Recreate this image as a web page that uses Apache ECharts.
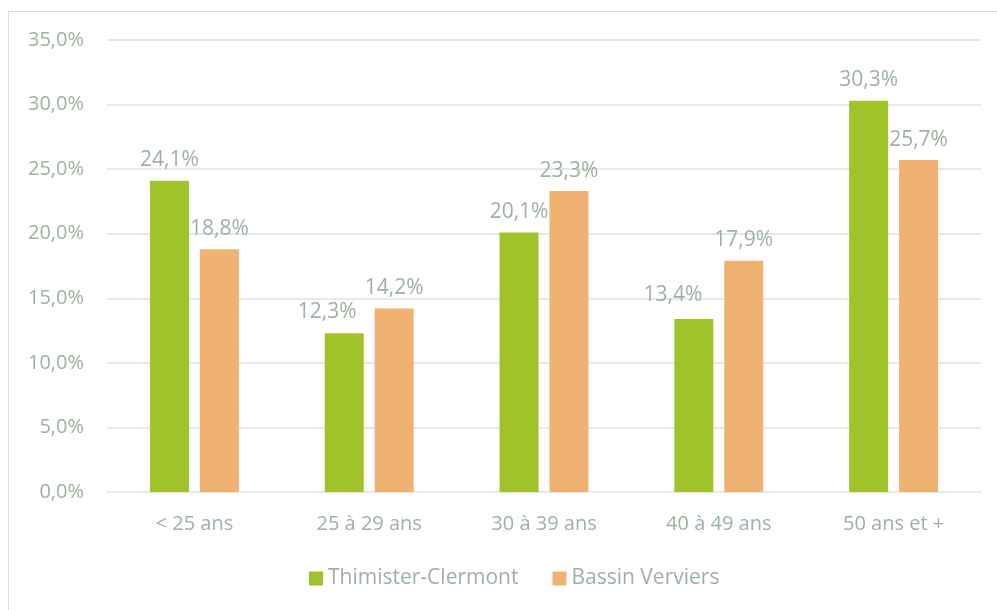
<!DOCTYPE html>
<html>
<head>
<meta charset="utf-8">
<script src="https://cdn.jsdelivr.net/npm/echarts@6/dist/echarts.min.js"></script>
<style>
    html, body { margin: 0; padding: 0; background: #fff; }
    #frame { position: absolute; left: 8px; top: 11px; width: 1000px; height: 620px; border: 1px solid #dcdcdc; box-sizing: border-box; }
    #chart1 { position: absolute; left: 0; top: 0; width: 997px; height: 610px; }
</style>
</head>
<body>
<div id="frame"></div>
<div id="chart1"></div>
<script>
var categories = ['< 25 ans', '25 à 29 ans', '30 à 39 ans', '40 à 49 ans', '50 ans et +'];
var thimister = [24.1, 12.3, 20.1, 13.4, 30.3];
var bassin = [18.8, 14.2, 23.3, 17.9, 25.7];
var seriesNames = ['Thimister-Clermont', 'Bassin Verviers'];
var colorList = ['#a0c32b', '#f0b272'];
var textColor = '#9eb2a1';
var font = '"Open Sans", "Noto Sans", sans-serif';
// labels nudged left so they don't collide with the neighbour bar's label
var labelShift = { 1: [-17, -1], 3: [-21, -3] };

function fmt(v) {
    return v.toFixed(1).replace('.', ',') + '%';
}

var chart1 = echarts.init(document.getElementById('chart1'));
var labelCfg = {
    show: true,
    position: 'top',
    distance: 10,
    color: textColor,
    fontSize: 21,
    fontFamily: font,
    formatter: function(p) { return fmt(p.value); }
};
var greenData = thimister.map(function(v, i) {
    if (labelShift[i]) {
        return { value: v, label: { offset: labelShift[i] } };
    }
    return v;
});
var option = {
    animation: false,
    grid: { left: 107, right: 16, top: 40, bottom: 118 },
    legend: {
        left: 304,
        top: 563,
        itemWidth: 14,
        itemHeight: 14,
        itemGap: 34,
        icon: 'rect',
        textStyle: { color: textColor, fontSize: 21, fontFamily: font },
        data: seriesNames
    },
    xAxis: {
        type: 'category',
        data: categories,
        axisLine: { show: true, lineStyle: { color: '#e6e9e7', width: 2 } },
        axisTick: { show: false },
        axisLabel: { color: textColor, fontSize: 20, fontFamily: font, margin: 22 }
    },
    yAxis: {
        type: 'value',
        min: 0,
        max: 35,
        interval: 5,
        axisLine: { show: false },
        axisTick: { show: false },
        splitLine: { lineStyle: { color: '#e6e9e7', width: 2 } },
        axisLabel: { color: textColor, fontSize: 20, fontFamily: font, margin: 23, formatter: function(v) { return fmt(v); } }
    },
    series: [{
        name: seriesNames[0],
        type: 'bar',
        data: greenData,
        barWidth: 39,
        barGap: '28%',
        itemStyle: { color: colorList[0] },
        label: labelCfg
    }, {
        name: seriesNames[1],
        type: 'bar',
        data: bassin,
        barWidth: 39,
        itemStyle: { color: colorList[1] },
        label: labelCfg
    }]
};
chart1.setOption(option);
</script>
</body>
</html>
